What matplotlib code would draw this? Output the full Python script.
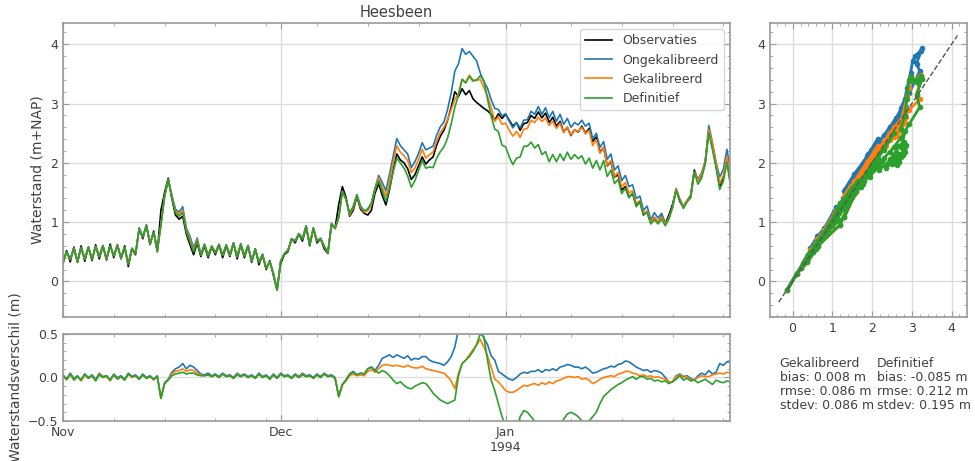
import matplotlib
matplotlib.use('Agg')
import matplotlib.pyplot as plt
import matplotlib.dates as mdates
from matplotlib.ticker import MultipleLocator, FuncFormatter
import numpy as np
import pandas as pd

########DATA
# waterstand Heesbeen, elke 12 uur vanaf 1 nov 1993
tijd = pd.date_range('1993-11-01', periods=185, freq='12h')

obs = np.array([
    0.30, 0.52, 0.33, 0.58, 0.32, 0.60, 0.34, 0.58, 0.35, 0.62, 0.38, 0.60, 0.36, 0.63,
    0.40, 0.62, 0.38, 0.60, 0.25, 0.55, 0.45, 0.90, 0.72, 0.95, 0.62, 0.85, 0.50, 1.20,
    1.50, 1.74, 1.40, 1.12, 1.05, 1.10, 0.80, 0.62, 0.45, 0.65, 0.42, 0.60, 0.40, 0.58,
    0.45, 0.62, 0.40, 0.60, 0.42, 0.65, 0.38, 0.62, 0.40, 0.60, 0.32, 0.55, 0.28, 0.45,
    0.20, 0.35, 0.10, -0.14, 0.30, 0.45, 0.50, 0.72, 0.65, 0.80, 0.68, 0.92, 0.60, 0.90,
    0.65, 0.72, 0.55, 0.47, 0.95, 0.90, 1.30, 1.60, 1.42, 1.10, 1.20, 1.43, 1.22, 1.15,
    1.12, 1.20, 1.49, 1.65, 1.45, 1.29, 1.55, 1.88, 2.15, 2.05, 2.00, 1.90, 1.72, 1.80,
    1.95, 2.10, 1.98, 2.05, 2.10, 2.30, 2.45, 2.55, 2.72, 2.94, 3.20, 3.12, 3.25, 3.15,
    3.22, 3.08, 3.02, 2.97, 2.92, 2.88, 2.82, 2.72, 2.83, 2.75, 2.82, 2.72, 2.62, 2.68,
    2.55, 2.66, 2.68, 2.80, 2.75, 2.86, 2.76, 2.84, 2.68, 2.77, 2.62, 2.70, 2.52, 2.60,
    2.46, 2.56, 2.52, 2.62, 2.50, 2.58, 2.36, 2.44, 2.18, 2.26, 1.95, 2.02, 1.76, 1.80,
    1.54, 1.60, 1.42, 1.48, 1.28, 1.34, 1.12, 1.18, 0.98, 1.08, 1.00, 1.10, 0.98, 1.12,
    1.30, 1.55, 1.35, 1.26, 1.35, 1.45, 1.88, 1.70, 1.78, 2.00, 2.55, 2.30, 1.95, 1.60,
    1.75, 2.05, 1.65])

# verschil model - observatie
verschil_ongekal = np.array([
    0.03, -0.02, 0.05, -0.01, 0.02, -0.03, 0.04, 0.00, 0.03, -0.02, 0.05, 0.01, 0.02, -0.03,
    0.04, 0.00, 0.02, -0.02, 0.05, 0.01, 0.03, -0.01, 0.04, 0.00, 0.02, -0.02, 0.02, -0.24,
    -0.06, -0.02, 0.06, 0.10, 0.12, 0.16, 0.10, 0.14, 0.12, 0.08, 0.04, 0.03, 0.05, 0.02,
    0.04, 0.01, 0.05, 0.02, 0.03, 0.00, 0.05, 0.02, 0.04, 0.01, 0.03, 0.00, 0.05, 0.01,
    0.03, -0.01, 0.04, 0.00, 0.05, 0.02, 0.03, 0.00, 0.04, 0.01, 0.05, 0.02, 0.03, 0.00,
    0.04, 0.01, 0.05, 0.02, 0.03, 0.00, -0.22, -0.08, -0.03, 0.04, 0.07, 0.03, 0.05, 0.04,
    0.10, 0.12, 0.08, 0.14, 0.22, 0.24, 0.26, 0.23, 0.26, 0.24, 0.22, 0.25, 0.20, 0.22,
    0.21, 0.24, 0.24, 0.20, 0.18, 0.17, 0.16, 0.14, 0.18, 0.24, 0.35, 0.55, 0.68, 0.68,
    0.66, 0.72, 0.70, 0.55, 0.45, 0.38, 0.25, 0.20, 0.07, 0.04, 0.01, -0.02, -0.03, 0.00,
    0.04, 0.06, 0.05, 0.07, 0.07, 0.09, 0.06, 0.09, 0.08, 0.10, 0.08, 0.12, 0.13, 0.15,
    0.14, 0.12, 0.12, 0.10, 0.12, 0.09, 0.05, 0.06, 0.08, 0.10, 0.11, 0.13, 0.12, 0.15,
    0.16, 0.19, 0.18, 0.15, 0.12, 0.10, 0.08, 0.09, 0.06, 0.08, 0.07, 0.05, 0.00, -0.05,
    -0.05, 0.02, 0.04, 0.01, 0.02, -0.01, -0.03, 0.02, 0.05, 0.03, 0.08, 0.04, 0.06, 0.16,
    0.14, 0.18, 0.18])

verschil_gekal = np.array([
    0.02, -0.03, 0.04, -0.02, 0.01, -0.04, 0.03, -0.01, 0.02, -0.03, 0.04, 0.00, 0.01, -0.04,
    0.03, -0.01, 0.01, -0.03, 0.04, 0.00, 0.02, -0.02, 0.03, -0.01, 0.01, -0.03, 0.01, -0.24,
    -0.07, -0.03, 0.04, 0.07, 0.08, 0.10, 0.07, 0.09, 0.08, 0.05, 0.03, 0.02, 0.03, 0.01,
    0.03, 0.00, 0.04, 0.01, 0.02, -0.01, 0.04, 0.01, 0.03, 0.00, 0.02, -0.01, 0.04, 0.00,
    0.02, -0.02, 0.03, -0.01, 0.04, 0.01, 0.02, -0.01, 0.03, 0.00, 0.04, 0.01, 0.02, -0.01,
    0.03, 0.00, 0.04, 0.01, 0.02, -0.01, -0.22, -0.09, -0.04, 0.02, 0.04, 0.02, 0.03, 0.02,
    0.07, 0.09, 0.06, 0.10, 0.14, 0.15, 0.14, 0.13, 0.14, 0.13, 0.12, 0.14, 0.12, 0.11,
    0.11, 0.13, 0.10, 0.09, 0.08, 0.07, 0.06, 0.05, 0.01, -0.04, -0.13, 0.05, 0.16, 0.20,
    0.26, 0.32, 0.37, 0.44, 0.35, 0.25, 0.12, -0.02, -0.05, -0.10, -0.15, -0.17, -0.17, -0.15,
    -0.12, -0.09, -0.10, -0.08, -0.07, -0.09, -0.06, -0.08, -0.05, -0.07, -0.04, -0.03, -0.01, 0.01,
    0.01, 0.00, 0.01, -0.02, -0.01, -0.03, -0.07, -0.05, -0.02, 0.00, 0.01, 0.02, 0.01, 0.04,
    0.05, 0.07, 0.07, 0.05, 0.04, 0.02, 0.03, 0.01, 0.02, 0.00, 0.01, -0.01, -0.02, -0.05,
    -0.05, 0.01, 0.03, 0.00, 0.01, -0.03, -0.03, 0.00, 0.02, 0.01, 0.01, 0.03, 0.04, 0.05,
    0.04, 0.06, 0.05])

verschil_definitief = np.array([
    0.02, -0.02, 0.04, -0.03, 0.01, -0.03, 0.04, -0.01, 0.02, -0.04, 0.03, 0.00, 0.02, -0.03,
    0.03, -0.02, 0.01, -0.03, 0.04, 0.01, 0.02, -0.02, 0.03, -0.01, 0.01, -0.02, 0.01, -0.24,
    -0.07, -0.03, 0.02, 0.04, 0.05, 0.06, 0.04, 0.05, 0.05, 0.03, 0.02, 0.02, 0.03, 0.01,
    0.03, 0.00, 0.04, 0.01, 0.02, -0.01, 0.03, 0.01, 0.03, 0.00, 0.02, -0.01, 0.04, 0.00,
    0.02, -0.02, 0.03, -0.01, 0.04, 0.01, 0.02, -0.01, 0.03, 0.00, 0.03, 0.01, 0.02, -0.01,
    0.03, 0.00, 0.04, 0.01, 0.02, -0.01, -0.22, -0.08, -0.03, 0.04, 0.06, 0.03, 0.05, 0.04,
    0.10, 0.12, 0.08, 0.05, 0.08, 0.06, 0.02, -0.03, -0.07, -0.05, -0.09, -0.12, -0.13, -0.10,
    -0.08, -0.06, -0.07, -0.12, -0.18, -0.22, -0.26, -0.28, -0.30, -0.28, -0.26, 0.02, 0.16, 0.20,
    0.24, 0.30, 0.38, 0.50, 0.47, 0.20, -0.03, -0.15, -0.30, -0.45, -0.55, -0.62, -0.65, -0.60,
    -0.45, -0.38, -0.40, -0.45, -0.50, -0.55, -0.62, -0.65, -0.66, -0.63, -0.60, -0.55, -0.48, -0.42,
    -0.40, -0.42, -0.45, -0.50, -0.52, -0.50, -0.45, -0.40, -0.30, -0.22, -0.18, -0.14, -0.11, -0.08,
    -0.06, -0.03, -0.01, 0.01, -0.02, 0.01, 0.01, -0.02, -0.01, -0.04, -0.03, -0.05, -0.04, -0.07,
    -0.05, -0.02, 0.02, -0.03, -0.01, -0.04, -0.03, -0.06, -0.04, -0.02, -0.05, -0.08, -0.03, -0.05,
    -0.06, -0.04, -0.05])

namen = ['Observaties', 'Ongekalibreerd', 'Gekalibreerd', 'Definitief']
kleuren = ['black', '#1f77b4', '#ff7f0e', '#2ca02c']
stat_kolommen = ['Gekalibreerd\nbias: 0.008 m\nrmse: 0.086 m\nstdev: 0.086 m',
                 'Definitief\nbias: -0.085 m\nrmse: 0.212 m\nstdev: 0.195 m']

verschillen = [verschil_ongekal, verschil_gekal, verschil_definitief]
modellen = [obs + v for v in verschillen]

########OPMAAK
tekstkleur = '#404040'
plt.rcParams['font.family'] = 'DejaVu Sans'
plt.rcParams['font.size'] = 9
plt.rcParams['text.color'] = tekstkleur
plt.rcParams['axes.labelcolor'] = tekstkleur
plt.rcParams['xtick.color'] = tekstkleur
plt.rcParams['ytick.color'] = tekstkleur
plt.rcParams['axes.edgecolor'] = '#9a9a9a'


def opmaak(ax):
    ax.grid(True, which='major', color='#dddddd', lw=1)
    ax.set_axisbelow(True)
    ax.tick_params(which='both', direction='in', top=True, right=True,
                   color='#9a9a9a', labelsize=9)
    ax.tick_params(which='major', length=4)
    ax.tick_params(which='minor', length=2)
    for s in ax.spines.values():
        s.set_linewidth(1.2)


fig = plt.figure(figsize=(9.75, 4.61), dpi=100)
ax = fig.add_axes([0.0646, 0.3124, 0.6841, 0.6377])
ax2 = fig.add_axes([0.0646, 0.0868, 0.6841, 0.1887], sharex=ax)
ax3 = fig.add_axes([0.7897, 0.3124, 0.2021, 0.6377], sharey=ax)

# tijdreeks
ax.plot(tijd, obs, color=kleuren[0], lw=1.2, label=namen[0])
for m, naam, kl in zip(modellen, namen[1:], kleuren[1:]):
    ax.plot(tijd, m, color=kl, lw=1.2, label=naam)
ax.set_ylim(-0.6, 4.36)
ax.set_xlim(tijd[0], pd.Timestamp('1994-01-31 22:00'))
ax.set_ylabel('Waterstand (m+NAP)', fontsize=10)
ax.set_title('Heesbeen', fontsize=10.5, pad=4)
ax.legend(loc='upper right', fontsize=9, framealpha=0.8, edgecolor='#cccccc',
          borderpad=0.4, handlelength=2.2)
ax.yaxis.set_minor_locator(MultipleLocator(0.2))
ax.xaxis.set_major_locator(mdates.MonthLocator())
ax.xaxis.set_minor_locator(mdates.WeekdayLocator(byweekday=mdates.MO))
plt.setp(ax.get_xticklabels(), visible=False)
opmaak(ax)

# verschillen
for v, kl in zip(verschillen, kleuren[1:]):
    ax2.plot(tijd, v, color=kl, lw=1.2)
ax2.set_ylim(-0.5, 0.5)
ax2.set_yticks([-0.5, 0.0, 0.5])
ax2.yaxis.set_minor_locator(MultipleLocator(0.1))
ax2.set_ylabel('Waterstandsverschil (m)', fontsize=10)


def maand_label(x, pos):
    d = mdates.num2date(x)
    if d.month == 1:
        return d.strftime('%b') + '\n' + str(d.year)
    return d.strftime('%b')


ax2.xaxis.set_major_formatter(FuncFormatter(maand_label))
opmaak(ax2)
ax2.grid(True, which='major', axis='y', color='#dddddd')

# scatter model tegen observatie
for m, kl in zip(modellen, kleuren[1:]):
    ax3.plot(obs, m, 'o-', color=kl, ms=3, lw=2)
ax3.plot([-0.35, 4.15], [-0.35, 4.15], '--', color='#555555', lw=1)
ax3.set_xlim(-0.57, 4.39)
ax3.set_xticks([0, 1, 2, 3, 4])
ax3.xaxis.set_minor_locator(MultipleLocator(0.2))
opmaak(ax3)

# statistieken
fig.text(0.7997, 0.226, stat_kolommen[0], va='top', ha='left', fontsize=9, linespacing=1.1)
fig.text(0.8995, 0.226, stat_kolommen[1], va='top', ha='left', fontsize=9, linespacing=1.1)

fig.savefig('out.png', dpi=100)
